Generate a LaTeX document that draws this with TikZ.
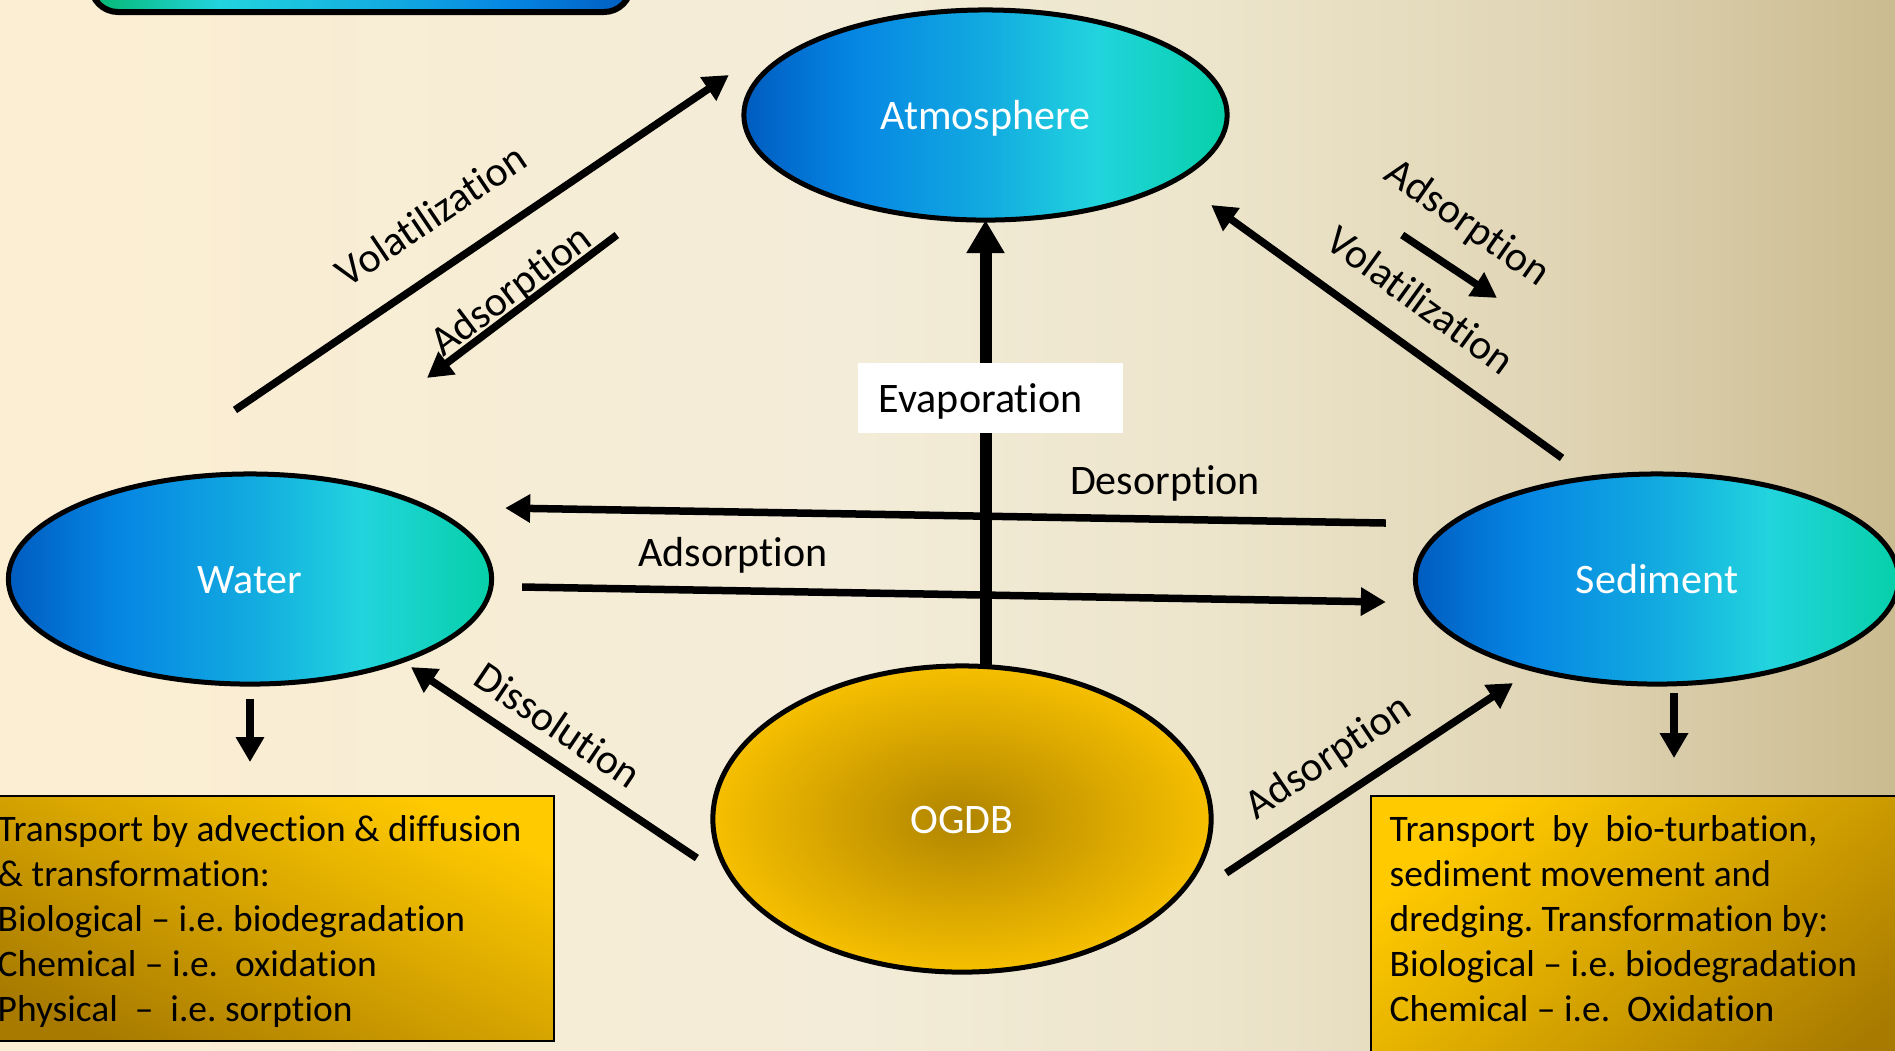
\documentclass[tikz,border=0pt]{standalone}
\usepackage{fontspec}
\setmainfont{Carlito}[Ligatures={TeX,NoCommon}]
\usetikzlibrary{shapes.geometric,arrows.meta,calc}

% page background
\definecolor{paperA}{HTML}{FCEED2}
\definecolor{paperB}{HTML}{F3ECD8}
\definecolor{paperC}{HTML}{ECE4CA}
\definecolor{paperD}{HTML}{E0D5B5}
\definecolor{paperE}{HTML}{CBBB90}
% environmental compartments
\definecolor{deepblue}{HTML}{005CBF}
\definecolor{midblue}{HTML}{0585E3}
\definecolor{skyblue}{HTML}{12AAE0}
\definecolor{cyanblue}{HTML}{22D4DE}
\definecolor{seagreen}{HTML}{06D0A8}
\definecolor{leafgreen}{HTML}{05B870}
% gold fills
\definecolor{goldlight}{HTML}{FFCA00}
\definecolor{golddark}{HTML}{A87A00}
\definecolor{oilcore}{HTML}{B08500}
\definecolor{oilrim}{HTML}{F6BF00}

\pgfdeclarehorizontalshading{paper}{100bp}{color(0bp)=(paperA); color(25bp)=(paperA); color(47.5bp)=(paperB); color(57.5bp)=(paperC); color(66bp)=(paperD); color(75bp)=(paperE); color(100bp)=(paperE)}
\pgfdeclarehorizontalshading{compartment}{100bp}{color(0bp)=(deepblue); color(25bp)=(deepblue); color(36bp)=(midblue); color(50bp)=(skyblue); color(61.5bp)=(cyanblue); color(75bp)=(seagreen); color(100bp)=(seagreen)}
\pgfdeclarehorizontalshading{bannerfill}{100bp}{color(0bp)=(leafgreen); color(25bp)=(leafgreen); color(37bp)=(cyanblue); color(53bp)=(skyblue); color(64bp)=(midblue); color(75bp)=(deepblue); color(100bp)=(deepblue)}

\frenchspacing

\begin{document}
\begin{tikzpicture}[x=0.01cm, y=-0.01cm,
  labelfont/.style={font=\fontsize{11.95pt}{14pt}\selectfont},
  medium/.style={ellipse, draw=black, line width=0.05cm, inner sep=0pt, outer sep=0pt,
    minimum width=4.83cm, minimum height=2.1cm, shade, shading=compartment,
    text=white, labelfont, text height=0.31cm, text depth=0.03cm},
  oilsource/.style={ellipse, draw=black, line width=0.05cm, inner sep=0pt, outer sep=0pt,
    minimum width=4.98cm, minimum height=3.06cm, inner color=oilcore, outer color=oilrim,
    text=white, labelfont, text height=0.31cm, text depth=0.03cm},
  flowarrow/.style={line width=0.075cm, -{Triangle[length=0.25cm,width=0.27cm]}},
  evapflow/.style={line width=0.12cm, -{Triangle[length=0.33cm,width=0.36cm]}},
  flowtag/.style={labelfont, inner sep=0pt, text=black},
  evapbox/.style={fill=white, minimum width=2.65cm, minimum height=0.70cm,
    text width=2.23cm, inner xsep=0.21cm, inner ysep=0pt, align=left, labelfont,
    text height=0.34cm, text depth=0.05cm},
  infobox/.style={draw=black, line width=0.02cm, anchor=north west, inner sep=0pt,
    top color=goldlight, bottom color=golddark},
  infotext/.style={anchor=north west, inner sep=0pt, align=left,
    font=\fontsize{10.65pt}{12.8pt}\selectfont},
]
\useasboundingbox (0,0) rectangle (1895,1050);
\path[shade, shading=paper] (0,0) rectangle (1895,1050);

% title banner running off the top edge
\path[draw=black, line width=0.06cm, rounded corners=0.27cm, shade, shading=bannerfill]
  (91,-100) rectangle (631,12);

% compartments
\node[medium] (atm) at (985.5,115) {Atmosphere};
\node[medium] (water) at (250,579) {Water};
\node[medium] (sed) at (1657,579) {Sediment};
\node[oilsource] (ogdb) at (962,819) {OGDB};

% exchange between water and sediment
\draw[flowarrow] ($(sed.west)+(-29.5,-56)$) -- ($(water.east)+(13.5,-71)$);
\draw[flowarrow] ($(water.east)+(30.5,8)$) -- ($(sed.west)+(-29.5,23)$);

% evaporation from the source
\draw[evapflow] (atm.south |- ogdb.north) -- (atm.south);
\node[evapbox] (evap) at (990.5,398) {Evaporation};

% exchange with the atmosphere
\draw[flowarrow] ($(water.north)+(-15,-64)$) -- ($(atm.west)+(-15,-40)$);
\draw[flowarrow] ($(atm.west)+(-127,120)$) -- ($(water.north)+(177,-96)$);
\draw[flowarrow] ($(sed.north)+(-95,-16)$) -- ($(atm.east)+(-16,90)$);
\draw[flowarrow] ($(atm.east)+(175,120)$) -- ($(sed.north)+(-160,-176)$);

% release from the source
\draw[flowarrow] ($(ogdb.west)+(-16,39)$) -- ($(water.south)+(161,-17)$);
\draw[flowarrow] ($(ogdb.east)+(15,54)$) -- ($(sed.south)+(-144,-1)$);

% process labels
\node[flowtag, rotate=34] (volL) at (431,215) {Volatilization};
\node[flowtag, rotate=37] (adsL) at (512,292) {Adsorption};
\node[flowtag, rotate=-35] (adsR) at (1467,224) {Adsorption};
\node[flowtag, rotate=-36] (volR) at (1421,300) {Volatilization};
\node[flowtag] (des) at (1165,483) {Desorption};
\node[flowtag] (adsM) at (733,555) {Adsorption};
\node[flowtag, rotate=-34] (dis) at (558,725) {Dissolution};
\node[flowtag, rotate=34] (adsB) at (1329,758) {Adsorption};

% fate within water and sediment
\node[infobox, shading angle=-25, minimum width=5.83cm, minimum height=2.45cm] (wbox) at (-30,795) {};
\node[infobox, shading angle=40, minimum width=5.6cm, minimum height=3.0cm] (sbox) at (1370,795) {};
\draw[flowarrow] ($(water.south)+(0,15)$) -- ++(0,63);
\draw[flowarrow] ($(sed.south)+(17,9)$) -- ++(0,65);

\node[infotext] (wtext) at (-3,815) {Transport by advection \& diffusion\\
\& transformation:\\
Biological – i.e. biodegradation\\
Chemical – i.e.~~oxidation\\
Physical~~–~~i.e. sorption};
\node[infotext] (stext) at (1389,815) {Transport~~by~~bio-turbation,\\
sediment movement and\\
dredging. Transformation by:\\
Biological – i.e. biodegradation\\
Chemical – i.e.~~Oxidation};
\end{tikzpicture}
\end{document}
